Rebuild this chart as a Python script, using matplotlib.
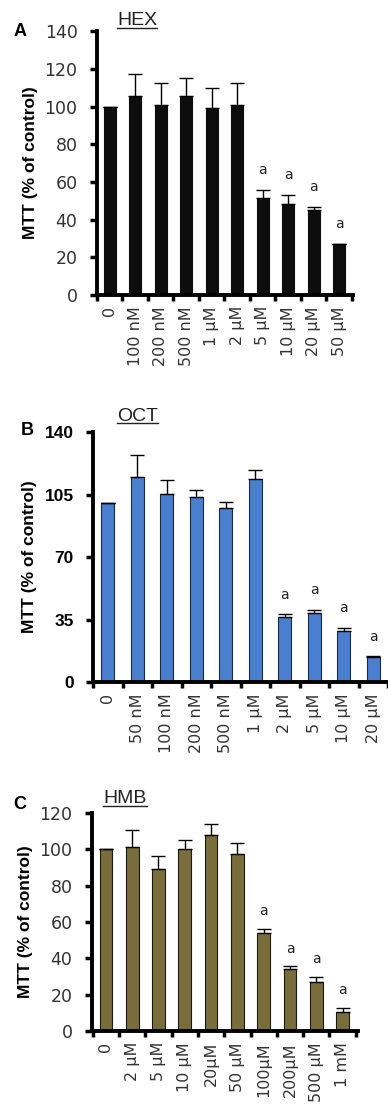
import numpy as np
import matplotlib.pyplot as plt

# Panel A: HEX
hex_labels = ['0', '100 nM', '200 nM', '500 nM', '1 µM', '2 µM', '5 µM', '10 µM', '20 µM', '50 µM']
hex_mean = [100, 105.6, 101, 105.6, 99, 101, 51.5, 48.2, 45.2, 26.8]
hex_err = [0, 11.5, 11.3, 9.8, 10.8, 11.6, 4.2, 4.8, 1.4, 0]
hex_sig = [False, False, False, False, False, False, True, True, True, True]

# Panel B: OCT
oct_labels = ['0', '50 nM', '100 nM', '200 nM', '500 nM', '1 µM', '2 µM', '5 µM', '10 µM', '20 µM']
oct_mean = [100, 114.8, 105.5, 103.6, 97.6, 113.9, 36.4, 38.8, 28.6, 14]
oct_err = [0, 12.1, 7.8, 3.7, 3.2, 4.6, 1.5, 1.7, 1.8, 0.4]
oct_sig = [False, False, False, False, False, False, True, True, True, True]

# Panel C: HMB
hmb_labels = ['0', '2 µM', '5 µM', '10 µM', '20µM', '50 µM', '100µM', '200µM', '500 µM', '1 mM']
hmb_mean = [100, 101, 89.3, 100, 107.9, 97.6, 53.9, 34, 27.2, 10.7]
hmb_err = [0, 9.5, 7.2, 5.3, 6.1, 5.9, 2.1, 1.5, 2.4, 1.8]
hmb_sig = [False, False, False, False, False, False, True, True, True, True]

fig = plt.figure(figsize=(3.88, 11.13), dpi=100)


def panel(rect, labels, mean, err, sig, color, edge, ymax, yticks, xlim, width,
          title, title_xy, letter, letter_xy, bold_ticks=False):
    ax = fig.add_axes(rect)
    x = np.arange(len(labels))
    ax.bar(x, mean, width=width, color=color, edgecolor=edge, linewidth=0.8, zorder=2)
    ax.errorbar(x, mean, yerr=[np.zeros(len(err)), err], fmt='none', ecolor='black',
                elinewidth=1.0, capsize=5, capthick=1.0, zorder=3)
    for xi, m, e, s in zip(x, mean, err, sig):
        if s:
            ax.text(xi, m + e + ymax * 0.05, 'a', ha='center', va='bottom',
                    fontsize=10, color='#222222')
    ax.set_xlim(*xlim)
    ax.set_ylim(0, ymax)
    ax.set_yticks(yticks)
    if bold_ticks:
        ax.set_yticklabels([str(t) for t in yticks], fontsize=12.5, fontweight='bold',
                           family='Liberation Sans', color='black')
    else:
        ax.set_yticklabels([str(t) for t in yticks], fontsize=12.5, color='#333333')
    # ticks sit between the bars, labels under each bar
    ax.set_xticks(np.arange(len(labels) + 1) - 0.5)
    ax.set_xticklabels([])
    ax.set_xticks(x, minor=True)
    ax.set_xticklabels(labels, minor=True, rotation=90, fontsize=11.5, color='#333333')
    ax.tick_params(axis='x', which='minor', length=0, pad=8)
    ax.tick_params(axis='x', which='major', direction='out', length=4, width=2.5)
    ax.tick_params(axis='y', direction='out', length=5, width=2.5, pad=9)
    for s in ['top', 'right']:
        ax.spines[s].set_visible(False)
    for s in ['left', 'bottom']:
        ax.spines[s].set_linewidth(2.8)
    ax.set_ylabel('MTT (% of control)', fontsize=12.5, fontweight='bold',
                  family='Liberation Sans', labelpad=5)
    ttl = fig.text(title_xy[0], title_xy[1], title, fontsize=14,
                   family='Liberation Sans', ha='left', va='baseline', color='#222222')
    fig.text(letter_xy[0], letter_xy[1], letter, fontsize=13, fontweight='bold',
             family='Liberation Sans', ha='left', va='center')
    return ax, ttl


axA, tA = panel([0.25, 0.735, 0.66, 0.237], hex_labels, hex_mean, hex_err, hex_sig,
                '#0d0d0d', '#0d0d0d', 140, [0, 20, 40, 60, 80, 100, 120, 140],
                (-0.47, 9.55), 0.47, 'HEX', (0.302, 0.9775), 'A', (0.035, 0.972))
axB, tB = panel([0.2397, 0.3872, 0.7603, 0.2246], oct_labels, oct_mean, oct_err, oct_sig,
                '#4a7fd0', '#1a2a40', 140, [0, 35, 70, 105, 140],
                (-0.5, 9.35), 0.45, 'OCT', (0.302, 0.622), 'B', (0.053, 0.613),
                bold_ticks=True)
axC, tC = panel([0.237, 0.0737, 0.686, 0.196], hmb_labels, hmb_mean, hmb_err, hmb_sig,
                '#7a6d3c', '#1a1a10', 120, [0, 20, 40, 60, 80, 100, 120],
                (-0.53, 9.59), 0.48, 'HMB', (0.266, 0.2785), 'C', (0.033, 0.277))

# underline the titles just below the baseline
for t in (tA, tB, tC):
    bb = t.get_window_extent(renderer=fig.canvas.get_renderer())
    bb = bb.transformed(fig.transFigure.inverted())
    y = t.get_position()[1] - 0.0025
    fig.add_artist(plt.Line2D([bb.x0, bb.x1], [y, y], color='#222222', lw=1.0,
                              transform=fig.transFigure))

fig.savefig('out.png', dpi=100)
